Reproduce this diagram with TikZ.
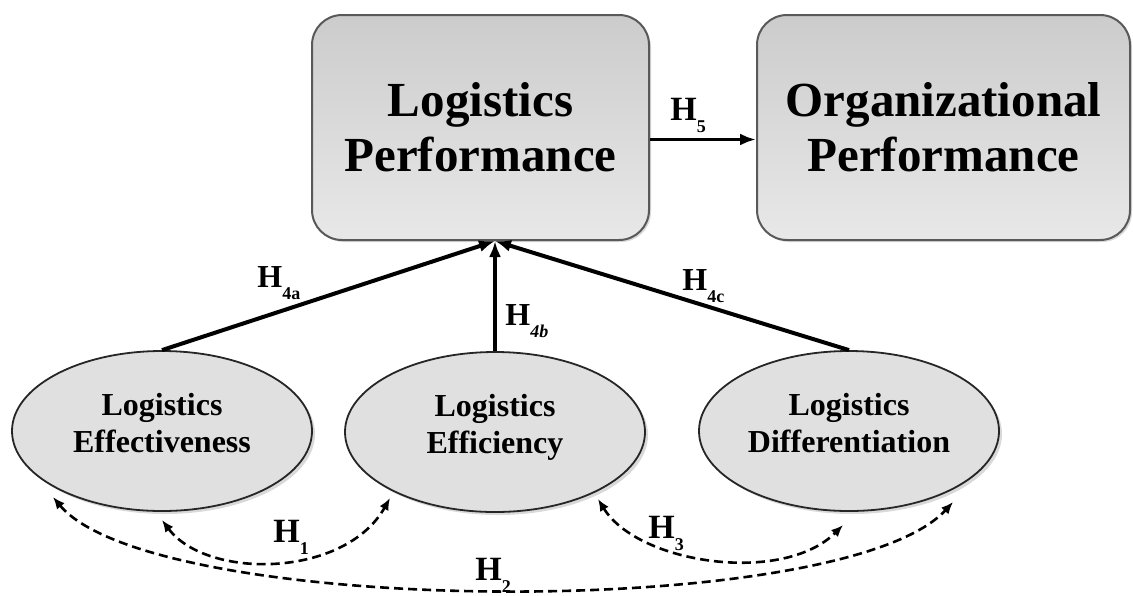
\documentclass[tikz,border=0pt]{standalone}
\usepackage{fontspec}
\setmainfont{Liberation Serif}
\usetikzlibrary{shapes.geometric,arrows.meta,calc,shadows}

\newcommand{\hsub}[1]{\raisebox{-6pt}{\fontsize{9}{9}\selectfont #1}}

\begin{document}
\begin{tikzpicture}[x=0.5pt,y=-0.5pt,
    perfbox/.style={draw=black!65, line width=1pt, rounded corners=15pt,
      top color=black!20, bottom color=black!9, minimum height=112.5pt,
      align=center, font=\fontsize{24.5}{27.5}\selectfont\bfseries,
      drop shadow={shadow xshift=1pt,shadow yshift=-1pt,opacity=.3}},
    dimell/.style={ellipse, draw=black!85, line width=0.9pt, fill=black!12,
      minimum width=150pt, minimum height=80pt, inner sep=0pt, align=center,
      text depth=8pt, font=\fontsize{16}{18.5}\selectfont\bfseries,
      drop shadow={shadow xshift=1.5pt,shadow yshift=-1.5pt,opacity=.3}},
    hyplab/.style={anchor=base west, inner sep=0pt,
      font=\fontsize{17}{17}\selectfont\bfseries},
    solidarr/.style={-{Latex[length=8pt,width=6pt]}, line width=2pt},
    corrarr/.style={{Latex[length=6pt,width=5pt]}-{Latex[length=6pt,width=5pt]},
      dash pattern=on 4.5pt off 2.5pt, line width=1.3pt}]
    \useasboundingbox (0,0) rectangle (1133,595);

    % Performance boxes (top)
    \node[perfbox, minimum width=168.5pt] (lp) at (480.5,127.5) {Logistics\\Performance};
    \node[perfbox, minimum width=186.5pt] (op) at (943.5,127.5) {Organizational\\Performance};

    % Logistics dimensions (bottom)
    \node[dimell] (eff) at (162,431) {Logistics\\Effectiveness};
    \node[dimell] (ecy) at (495,432) {Logistics\\Efficiency};
    \node[dimell] (dif) at (849,431) {Logistics\\Differentiation};

    % Direct paths
    \draw[solidarr] (eff.north) -- (ecy.north |- lp.south);
    \draw[solidarr] (ecy.north) -- (ecy.north |- lp.south);
    \draw[solidarr] (dif.north) -- (ecy.north |- lp.south);
    \draw[solidarr, line width=1.8pt] ([yshift=-6pt]lp.east) -- ([yshift=-6pt]op.west);

    % Correlations between the dimensions
    \draw[corrarr] ($(eff.center)+(0,89)$) .. controls +(45,60) and +(-45,80) .. ($(ecy.center)+(-105,66)$);
    \draw[corrarr] ($(eff.center)+(-109,66)$) .. controls +(100,120) and +(-110,120) .. ($(dif.center)+(104,71)$);
    \draw[corrarr] ($(ecy.center)+(103,67)$) .. controls +(40,65) and +(-60,60) .. ($(dif.center)+(-6,94)$);

    % Hypothesis labels
    \node[hyplab] (h5) at (670,120) {H\hsub{5}};
    \node[hyplab, font=\fontsize{16}{16}\selectfont\bfseries] (h4a) at (257,287) {H\hsub{4a}};
    \node[hyplab, font=\fontsize{16}{16}\selectfont\bfseries] (h4b) at (505,325) {H\hsub{\itshape 4b}};
    \node[hyplab, font=\fontsize{16}{16}\selectfont\bfseries] (h4c) at (682,290) {H\hsub{4c}};
    \node[hyplab] (h1) at (273,542) {H\hsub{1}};
    \node[hyplab] (h2) at (475,580) {H\hsub{2}};
    \node[hyplab] (h3) at (648,538) {H\hsub{3}};
\end{tikzpicture}
\end{document}
